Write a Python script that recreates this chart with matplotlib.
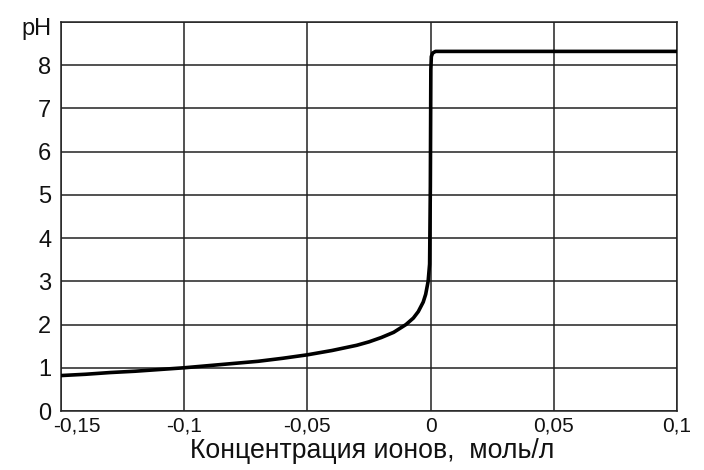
import matplotlib
matplotlib.use("Agg")
import matplotlib.pyplot as plt
import matplotlib.transforms as mtransforms

# Data
conc = [-0.15, -0.14, -0.13, -0.12, -0.11, -0.10, -0.09, -0.08, -0.07, -0.06,
        -0.05, -0.04, -0.03, -0.025, -0.02, -0.015, -0.01, -0.007, -0.005,
        -0.003, -0.002, -0.001, -0.0004, -0.0001, 0.0001, 0.0003, 0.0008,
        0.002, 0.1]
ph = [0.82, 0.85, 0.89, 0.92, 0.96, 1.00, 1.05, 1.10, 1.15, 1.22,
      1.30, 1.40, 1.52, 1.60, 1.70, 1.82, 2.00, 2.15, 2.30,
      2.52, 2.70, 3.00, 3.40, 5.20, 7.90, 8.20, 8.28,
      8.32, 8.32]

xticks = [-0.15, -0.10, -0.05, 0.0, 0.05, 0.10]
xtick_labels = ["-0,15", "-0,1", "-0,05", "0", "0,05", "0,1"]
yticks = [0, 1, 2, 3, 4, 5, 6, 7, 8, 9]
ytick_labels = ["0", "1", "2", "3", "4", "5", "6", "7", "8", "pH"]
xlabel = "Концентрация ионов,  моль/л"

plt.rcParams['font.family'] = ['Liberation Sans', 'DejaVu Sans']

fig = plt.figure(figsize=(7.04, 4.70), dpi=100)
ax = fig.add_axes([61/704, 1 - 411/470, (677 - 61)/704, (411 - 22)/470])

ax.plot(conc, ph, color='black', lw=2.6, solid_joinstyle='round', zorder=3)

ax.set_xlim(-0.15, 0.10)
ax.set_ylim(0, 9)
ax.set_xticks(xticks)
ax.set_xticklabels(xtick_labels, fontsize=15, color='#111111')
ax.set_yticks(yticks)
ax.set_yticklabels(ytick_labels, fontsize=17, color='#111111')
ax.tick_params(length=0)
ax.tick_params(axis='y', pad=7)
ax.tick_params(axis='x', pad=4)

ax.grid(True, color='#222222', lw=1.1)
ax.set_axisbelow(True)
for s in ax.spines.values():
    s.set_color('#222222')
    s.set_linewidth(1.1)

# shift first x tick label right as in the original
lbl = ax.get_xticklabels()[0]
lbl.set_transform(lbl.get_transform() + mtransforms.ScaledTranslation(16/100, 0, fig.dpi_scale_trans))
# pH label nudged down a bit
pl = ax.get_yticklabels()[-1]
pl.set_transform(pl.get_transform() + mtransforms.ScaledTranslation(0, -5/100, fig.dpi_scale_trans))

fig.text(372/704, 1 - 451/470, xlabel, fontsize=19.2, ha='center', va='center', color='#111111')

fig.savefig("out.png", dpi=100, facecolor='white')
